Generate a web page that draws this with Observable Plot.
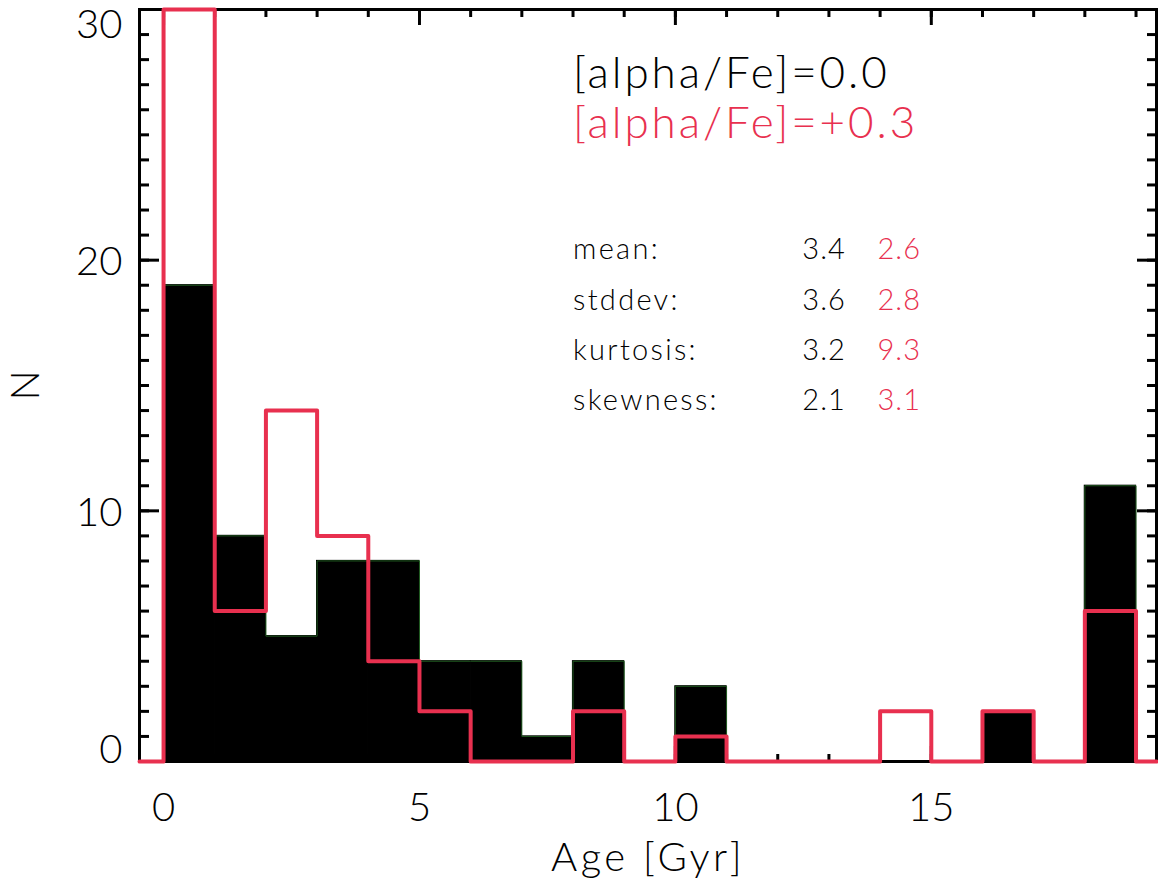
<!DOCTYPE html>
<html><head><meta charset="utf-8">
<script src="https://cdn.jsdelivr.net/npm/d3@7"></script>
<script src="https://cdn.jsdelivr.net/npm/@observablehq/plot@0.6"></script>
<style>
body{margin:0;background:#fff;}
#chart svg text{font-family:Lato, "DejaVu Sans", sans-serif;font-weight:300;}
</style>
</head><body><div id="chart"></div>
<script>
// ---- data ----
const binStarts = d3.range(0, 19);               // age bins [i, i+1) Gyr
const countsAlpha00 = [19, 9, 5, 8, 8, 4, 4, 1, 4, 0, 3, 0, 0, 0, 0, 0, 2, 0, 11];
const countsAlpha03 = [30, 6, 14, 9, 4, 2, 0, 0, 2, 0, 1, 0, 0, 0, 2, 0, 2, 0, 6];
const legendLabels = ["[alpha/Fe]=0.0", "[alpha/Fe]=+0.3"];
const statNames = ["mean:", "stddev:", "kurtosis:", "skewness:"];
const statsAlpha00 = ["3.4", "3.6", "3.2", "2.1"];
const statsAlpha03 = ["2.6", "2.8", "9.3", "3.1"];
const xLabel = "Age [Gyr]";
const yLabel = "N";
const xMajorTicks = [0, 5, 10, 15];
const xMinorTicks = d3.range(0, 20);
const yMajorTicks = [0, 10, 20, 30];
const yMinorTicks = d3.range(0, 31);

// ---- styling ----
const RED = "#e8304f";
const xDomain = [-0.47, 19.4];
const yDomain = [0, 30];

const bars = binStarts.map((s, i) => ({x1: s, x2: s + 1, n: countsAlpha00[i]}));
const lastEdge = binStarts[binStarts.length - 1] + 1;
const blackSteps = binStarts.map((s, i) => ({x: s, n: countsAlpha00[i]})).concat([{x: lastEdge, n: 0}]);
const redSteps = [{x: xDomain[0], n: 0}]
  .concat(binStarts.map((s, i) => ({x: s, n: countsAlpha03[i]})))
  .concat([{x: lastEdge, n: 0}, {x: xDomain[1], n: 0}]);

const legend = legendLabels.map((t, i) => ({t, i}));
const stats = statNames.map((t, i) => ({t, i, a: statsAlpha00[i], b: statsAlpha03[i]}));

const blank = () => "";
const tickStyle = {stroke: "black", strokeWidth: 3, tickFormat: blank, label: null};

const chart = Plot.plot({
  width: 1158,
  height: 886,
  marginLeft: 139,
  marginRight: 2,
  marginTop: 9,
  marginBottom: 125,
  x: {domain: xDomain},
  y: {domain: yDomain},
  style: {background: "white", color: "black"},
  marks: [
    Plot.rectY(bars, {x1: "x1", x2: "x2", y: "n", fill: "black", stroke: "black", strokeWidth: 1.2}),
    Plot.line(blackSteps, {x: "x", y: "n", curve: "step-after", stroke: "#1f5a1f", strokeWidth: 1}),
    Plot.frame({stroke: "black", strokeWidth: 3}),
    // y ticks (inward) left & right
    Plot.axisY(yMinorTicks, {...tickStyle, anchor: "left", tickSize: -10}),
    Plot.axisY(yMajorTicks, {...tickStyle, anchor: "left", tickSize: -20}),
    Plot.axisY(yMinorTicks, {...tickStyle, anchor: "right", tickSize: -10}),
    Plot.axisY(yMajorTicks, {...tickStyle, anchor: "right", tickSize: -20}),
    // x ticks (inward) top & bottom
    Plot.axisX(xMinorTicks, {...tickStyle, anchor: "top", tickSize: -7}),
    Plot.axisX(xMajorTicks, {...tickStyle, anchor: "top", tickSize: -15}),
    Plot.axisX(xMinorTicks, {...tickStyle, anchor: "bottom", tickSize: -7}),
    Plot.axisX(xMajorTicks, {...tickStyle, anchor: "bottom", tickSize: -15}),
    // y tick labels
    Plot.axisY([yMajorTicks[0]], {anchor: "left", tickSize: 0, tickPadding: 17, fontSize: 40, lineAnchor: "bottom", dy: 1, label: null}),
    Plot.axisY(yMajorTicks.slice(1, 3), {anchor: "left", tickSize: 0, tickPadding: 17, fontSize: 40, lineAnchor: "middle", dy: 2, label: null}),
    Plot.axisY([yMajorTicks[3]], {anchor: "left", tickSize: 0, tickPadding: 17, fontSize: 40, lineAnchor: "top", label: null}),
    Plot.axisY([], {anchor: "left", tickSize: 0, label: yLabel, labelAnchor: "center", labelArrow: "none", labelOffset: 129, fontSize: 40}),
    // x tick labels + title
    Plot.axisX(xMajorTicks, {anchor: "bottom", tickSize: 0, tickPadding: 31, fontSize: 40, label: xLabel, labelAnchor: "center", labelArrow: "none", labelOffset: 109}),
    // red histogram outline
    Plot.line(redSteps, {x: "x", y: "n", curve: "step-after", stroke: RED, strokeWidth: 4}),
    // legend
    Plot.text(legend, {x: 8.0, y: d => 27.44 - 1.99 * d.i, text: "t", textAnchor: "start", lineAnchor: "middle", fontSize: 44, fill: d => d.i === 0 ? "black" : RED}),
    // stats
    Plot.text(stats, {x: 8.0, y: d => 20.4 - 2 * d.i, text: "t", textAnchor: "start", lineAnchor: "middle", fontSize: 29, fill: "black"}),
    Plot.text(stats, {x: 12.48, y: d => 20.4 - 2 * d.i, text: "a", textAnchor: "start", lineAnchor: "middle", fontSize: 29, fill: "black"}),
    Plot.text(stats, {x: 13.95, y: d => 20.4 - 2 * d.i, text: "b", textAnchor: "start", lineAnchor: "middle", fontSize: 29, fill: RED})
  ]
});
document.getElementById("chart").appendChild(chart);

// widen the text to match the wide stroke-font look of the original
d3.select(chart).selectAll("text").each(function() {
  const t = this.textContent;
  if (legendLabels.includes(t)) this.style.letterSpacing = "2.9px";
  else if (statNames.includes(t)) this.style.letterSpacing = "2.3px";
  else if (t === xLabel) this.style.letterSpacing = "3.5px";
  else if (statsAlpha00.includes(t) || statsAlpha03.includes(t)) this.style.letterSpacing = "1px";
});
</script>
</body></html>
